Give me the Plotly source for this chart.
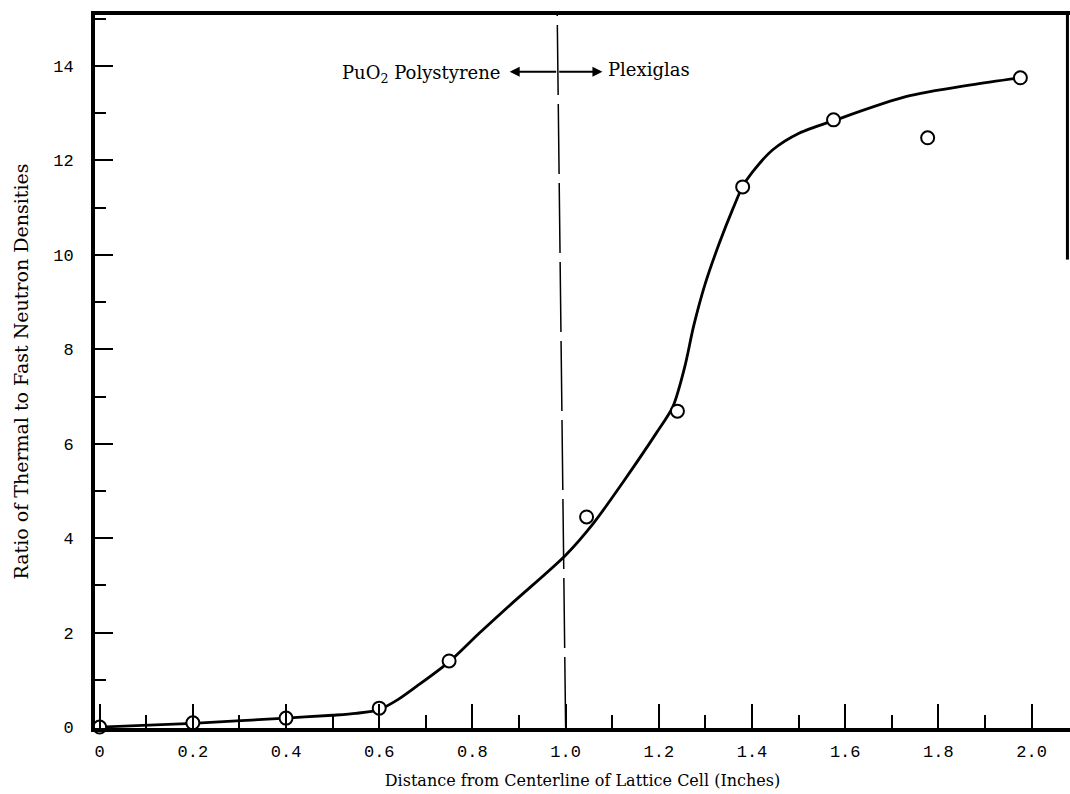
import plotly.graph_objects as go

# Measured thermal-to-fast neutron density ratio across the lattice cell
distance_in = [0.0, 0.2, 0.4, 0.6, 0.75, 1.045, 1.24, 1.38, 1.575, 1.777, 1.976]
density_ratio = [0.0, 0.09, 0.19, 0.40, 1.40, 4.45, 6.69, 11.44, 12.86, 12.48, 13.75]

# Hand-faired curve through the measurements (knots along the drawn curve)
curve_x = [0.0, 0.2, 0.4, 0.5, 0.55, 0.6, 0.64, 0.68, 0.75, 0.815, 0.886, 1.0,
           1.06, 1.122, 1.195, 1.23, 1.255, 1.275, 1.3, 1.33, 1.36, 1.38, 1.40,
           1.444, 1.502, 1.58, 1.73, 1.87, 1.976]
curve_y = [0.0, 0.08, 0.19, 0.25, 0.29, 0.37, 0.58, 0.86, 1.38, 1.99, 2.63, 3.64,
           4.32, 5.17, 6.23, 6.78, 7.6, 8.5, 9.4, 10.25, 11.0, 11.45, 11.74,
           12.22, 12.58, 12.86, 13.35, 13.6, 13.75]

# Boundary between the PuO2-polystyrene fuel region and the Plexiglas moderator
boundary_x = [1.0, 0.982]
boundary_y = [0.0, 15.08]

x_ticks = [0, 0.2, 0.4, 0.6, 0.8, 1.0, 1.2, 1.4, 1.6, 1.8, 2.0]
x_tick_text = ["0", "0.2", "0.4", "0.6", "0.8", "1.0", "1.2", "1.4", "1.6", "1.8", "2.0"]
y_ticks = [0, 2, 4, 6, 8, 10, 12, 14]

X_RANGE = [-0.01, 2.0825]
Y_RANGE = [-0.02, 15.08]

serif = "DejaVu Serif"
typewriter = "Liberation Mono"

fig = go.Figure()

fig.add_trace(go.Scatter(
    x=boundary_x, y=boundary_y, mode="lines",
    line=dict(color="black", width=1.5, dash="70px,9px"),
    hoverinfo="skip", showlegend=False,
))

fig.add_trace(go.Scatter(
    x=curve_x, y=curve_y, mode="lines",
    line=dict(color="black", width=2.8, shape="spline", smoothing=0.8),
    hoverinfo="skip", showlegend=False,
))

fig.add_trace(go.Scatter(
    x=distance_in, y=density_ratio, mode="markers",
    marker=dict(symbol="circle", size=13, color="white",
                line=dict(color="black", width=2)),
    showlegend=False, cliponaxis=False,
))

# Partial right-hand frame edge
fig.add_shape(type="line", xref="x", yref="y",
              x0=2.077, x1=2.077, y0=9.9, y1=Y_RANGE[1],
              line=dict(color="black", width=3))

# Region labels with arrows
arrow_y = 13.88
arrow_mid = 0.983
for tip in (0.88, 1.079):
    fig.add_annotation(x=tip, y=arrow_y, ax=arrow_mid, ay=arrow_y,
                       xref="x", yref="y", axref="x", ayref="y",
                       text="", showarrow=True, arrowhead=2, arrowsize=1.0,
                       arrowwidth=2, arrowcolor="black")
fig.add_annotation(x=0.865, y=arrow_y, xref="x", yref="y",
                   text="PuO<sub>2</sub> Polystyrene", showarrow=False,
                   xanchor="right", yanchor="middle", yshift=-2,
                   font=dict(family=serif, size=18, color="black"))
fig.add_annotation(x=1.086, y=arrow_y, xref="x", yref="y",
                   text="Plexiglas", showarrow=False,
                   xanchor="left", yanchor="middle", yshift=2,
                   font=dict(family=serif, size=18, color="black"))

fig.update_layout(
    width=1070, height=794,
    margin=dict(l=95, r=0, t=15, b=66),
    paper_bgcolor="white", plot_bgcolor="white",
    font=dict(family=serif, color="black"),
    showlegend=False,
)

fig.update_xaxes(
    range=X_RANGE, tickmode="array", tickvals=x_ticks, ticktext=x_tick_text,
    ticks="inside", ticklen=24, tickwidth=1.5, tickcolor="black",
    minor=dict(dtick=0.1, tick0=0, ticks="inside", ticklen=13,
               tickwidth=1.5, tickcolor="black", showgrid=False),
    showline=True, linecolor="black", linewidth=4, mirror=True,
    showgrid=False, zeroline=False,
    tickfont=dict(family=typewriter, size=17),
    ticklabelstandoff=5,
    title=dict(text="Distance from Centerline of Lattice Cell (Inches)",
               font=dict(family=serif, size=16), standoff=14),
)

fig.update_yaxes(
    range=Y_RANGE, tickmode="array", tickvals=y_ticks,
    ticks="inside", ticklen=18, tickwidth=1.5, tickcolor="black",
    minor=dict(dtick=1, tick0=0, ticks="inside", ticklen=11,
               tickwidth=1.5, tickcolor="black", showgrid=False),
    showline=True, linecolor="black", linewidth=4, mirror=False,
    showgrid=False, zeroline=False,
    tickfont=dict(family=typewriter, size=17),
    ticklabelstandoff=14,
    title=dict(text="Ratio of Thermal to Fast Neutron Densities",
               font=dict(family=serif, size=19), standoff=21),
)

fig.write_html("out.html")
